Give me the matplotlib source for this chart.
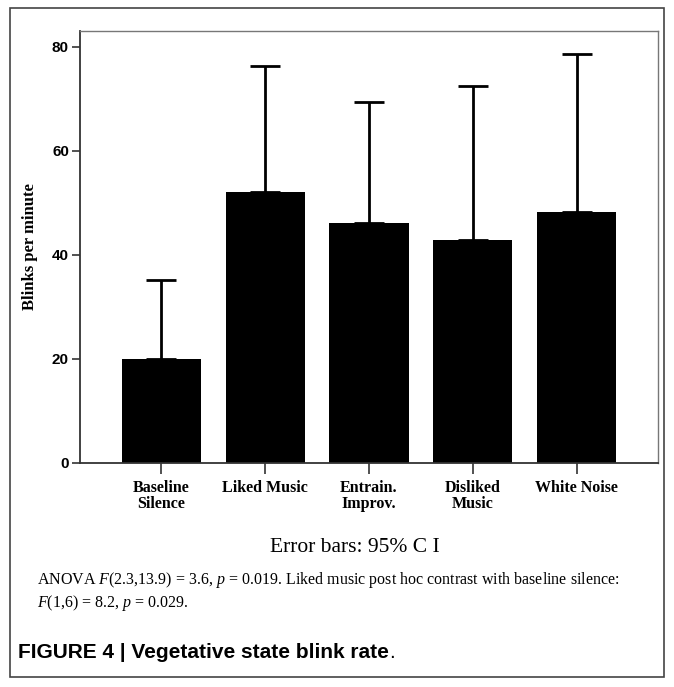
import matplotlib
matplotlib.use("Agg")
import matplotlib.pyplot as plt
from matplotlib.patches import Rectangle

plt.rcParams["mathtext.fontset"] = "custom"
plt.rcParams["mathtext.it"] = "Liberation Serif:italic"
plt.rcParams["mathtext.rm"] = "Liberation Serif"

categorias = ["Baseline\nSilence", "Liked Music", "Entrain.\nImprov.", "Disliked\nMusic", "White Noise"]
medias = [20.0, 52.1, 46.2, 42.9, 48.3]
ic_sup = [35.2, 76.2, 69.4, 72.4, 78.6]
yticks = [0, 20, 40, 60, 80]

W, H = 674, 687
fig = plt.figure(figsize=(W / 100, H / 100), dpi=100)

# marco exterior
fig.add_artist(Rectangle((10 / W, 1 - 677 / H), 654 / W, 669 / H, transform=fig.transFigure,
                         fill=False, edgecolor="#444444", linewidth=1.2))

ax = fig.add_axes([80 / W, 1 - 463 / H, 578 / W, 432 / H])
x = range(len(categorias))
err = [[0] * len(medias), [s - m for s, m in zip(ic_sup, medias)]]
ax.bar(x, medias, width=0.76, color="black", zorder=2)
ax.errorbar(x, medias, yerr=err, fmt="none", ecolor="black", elinewidth=2,
            capsize=11, capthick=2, zorder=3)

ax.set_xlim(-0.78, 4.78)
ax.set_ylim(0, 83)
ax.set_yticks(yticks)
ax.set_yticklabels([str(v) for v in yticks], fontfamily="Liberation Sans",
                   fontweight="bold", fontsize=11)
ax.set_xticks(list(x))
ax.set_xticklabels(categorias, fontfamily="Liberation Serif", fontweight="bold",
                   fontsize=11.5, linespacing=1.0)
ax.tick_params(axis="x", length=8, width=1.2, pad=4, color="#333333")
ax.tick_params(axis="y", length=6, width=1.2, pad=2, color="#333333")
ax.set_ylabel("Blinks per minute", fontfamily="Liberation Serif", fontweight="bold",
              fontsize=12, labelpad=10)
for side in ["left", "bottom"]:
    ax.spines[side].set_color("#333333")
    ax.spines[side].set_linewidth(1.3)
for side in ["top", "right"]:
    ax.spines[side].set_color("#777777")
    ax.spines[side].set_linewidth(1.0)

fig.text(355 / W, 1 - 547 / H, "Error bars: 95% C I", fontfamily="Liberation Serif",
         fontsize=15.5, ha="center", va="center")
fig.text(37 / W, 1 - 580 / H,
         "ANOVA $F$(2.3,13.9) = 3.6, $p$ = 0.019. Liked music post hoc contrast with baseline silence:",
         fontfamily="Liberation Serif", fontsize=11.5, ha="left", va="center")
fig.text(37 / W, 1 - 603 / H, "$F$(1,6) = 8.2, $p$ = 0.029.",
         fontfamily="Liberation Serif", fontsize=11.5, ha="left", va="center")
t = fig.text(18 / W, 1 - 652 / H, "FIGURE 4 | Vegetative state blink rate",
             fontfamily="Liberation Sans", fontweight="bold", fontsize=15,
             ha="left", va="center")
fig.canvas.draw()
bb = t.get_window_extent()
fig.text(bb.x1 / W, 1 - 652 / H, ".", fontfamily="Liberation Sans", fontsize=15,
         ha="left", va="center")

fig.savefig("out.png", dpi=100)
